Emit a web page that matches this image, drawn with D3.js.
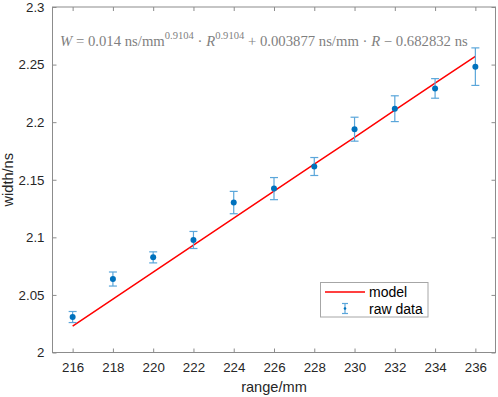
<!DOCTYPE html>
<html><head><meta charset="utf-8">
<script src="https://cdn.jsdelivr.net/npm/d3@7"></script>
<style>body{margin:0;background:#fff}svg{display:block}</style>
</head><body>
<svg id="c" width="498" height="397"></svg>
<script>
const rangeMM = [216,218,220,222,224,226,228,230,232,234,236];
const widthNs = [2.0308,2.0638,2.0826,2.0977,2.1302,2.1423,2.1615,2.1939,2.2117,2.2293,2.2482];
const errNs   = [0.0048,0.0061,0.0048,0.0074,0.0097,0.0096,0.0078,0.0104,0.0112,0.0085,0.0163];
const modelNs = [2.0229,2.0463,2.0698,2.0932,2.1166,2.1401,2.1635,2.1869,2.2104,2.2338,2.2572];
const xTicks = [216,218,220,222,224,226,228,230,232,234,236];
const yTicks = [2,2.05,2.1,2.15,2.2,2.25,2.3];
const yTickLabels = ["2","2.05","2.1","2.15","2.2","2.25","2.3"];

const svg = d3.select("#c");
const L=52.5, R=495.5, T=7, B=352.5;
const x = d3.scaleLinear().domain([215,237]).range([L,R]);
const y = d3.scaleLinear().domain([2,2.3]).range([B,T]);
const axisCol = "#262626", boxCol="#8c8c8c";
const font = "'Liberation Sans', Arial, sans-serif";

// box
svg.append("rect").attr("x",L).attr("y",T).attr("width",R-L).attr("height",B-T)
  .attr("fill","none").attr("stroke",boxCol).attr("stroke-width",1);

// axes
const xa = svg.append("g").attr("transform",`translate(0,${B})`)
  .call(d3.axisBottom(x).tickValues(xTicks).tickSizeInner(-4).tickSizeOuter(0).tickPadding(10));
const xt = svg.append("g").attr("transform",`translate(0,${T})`)
  .call(d3.axisTop(x).tickValues(xTicks).tickSizeInner(-4).tickSizeOuter(0).tickFormat(""));
const ya = svg.append("g").attr("transform",`translate(${L},0)`)
  .call(d3.axisLeft(y).tickValues(yTicks).tickFormat((d,i)=>yTickLabels[i]).tickSizeInner(-4).tickSizeOuter(0).tickPadding(8));
const yr = svg.append("g").attr("transform",`translate(${R},0)`)
  .call(d3.axisRight(y).tickValues(yTicks).tickSizeInner(-4).tickSizeOuter(0).tickFormat(""));
[xa,xt,ya,yr].forEach(g=>{
  g.select(".domain").remove();
  g.selectAll(".tick line").attr("stroke",boxCol);
  g.selectAll("text").attr("fill",axisCol).style("font-family",font).style("font-size","13.3px");
});

// axis titles
svg.append("text").attr("x",(L+R)/2).attr("y",392).attr("text-anchor","middle")
  .style("font-family",font).style("font-size","14.6px").attr("fill",axisCol).text("range/mm");
svg.append("text").attr("transform",`translate(13,${(T+B)/2}) rotate(-90)`).attr("text-anchor","middle")
  .style("font-family",font).style("font-size","14.6px").attr("fill",axisCol).text("width/ns");

// model line
const line = d3.line().x((d,i)=>x(rangeMM[i])).y(d=>y(d));
svg.append("path").datum(modelNs).attr("d",line).attr("fill","none").attr("stroke","#ff0000").attr("stroke-width",1.5);

// error bars
const errCol = "#5aa6da";
const eg = svg.append("g").attr("stroke",errCol).attr("stroke-width",1.2);
rangeMM.forEach((r,i)=>{
  const cx=x(r), y1=y(widthNs[i]+errNs[i]), y2=y(widthNs[i]-errNs[i]);
  eg.append("line").attr("x1",cx).attr("x2",cx).attr("y1",y1).attr("y2",y2);
  eg.append("line").attr("x1",cx-4).attr("x2",cx+4).attr("y1",y1).attr("y2",y1);
  eg.append("line").attr("x1",cx-4).attr("x2",cx+4).attr("y1",y2).attr("y2",y2);
});
svg.append("g").selectAll("circle").data(widthNs).join("circle")
  .attr("cx",(d,i)=>x(rangeMM[i])).attr("cy",d=>y(d)).attr("r",3).attr("fill","#0072bd");

// equation
const eq = svg.append("text").attr("x",60).attr("y",46).attr("fill","#7f7f7f")
  .style("font-family","'Liberation Serif', 'Times New Roman', serif").style("font-size","16px");
const parts = [
  ["W","i"],[" = 0.014 ns/mm",""],["0.9104","s"],[" · ",""],["R","i"],["0.9104","s"],
  [" + 0.003877 ns/mm · ",""],["R","i"],[" − 0.682832 ns",""]
];
parts.forEach(([t,k],i)=>{
  const ts = eq.append("tspan").text(t);
  if(k==="i") ts.style("font-style","italic");
  if(k==="s") ts.attr("dy",-7).style("font-size","11.5px").classed("sup",true);
  if(i>0 && parts[i-1][1]==="s") ts.attr("dy",7);
});
// fit width
const bb = eq.node().getComputedTextLength();
const target = 408, sc = target/bb;
eq.style("font-size", (16*sc).toFixed(2)+"px");
eq.selectAll("tspan.sup").style("font-size",(11.5*sc).toFixed(2)+"px");

// legend
const lg = svg.append("g");
lg.append("rect").attr("x",320.5).attr("y",282.5).attr("width",107.5).attr("height",34.5)
  .attr("fill","#fff").attr("stroke","#a6a6a6").attr("stroke-width",1);
lg.append("line").attr("x1",325).attr("x2",365).attr("y1",292).attr("y2",292).attr("stroke","#ff0000").attr("stroke-width",1.5);
lg.append("text").attr("x",369).attr("y",297).text("model")
  .style("font-family",font).style("font-size","14px").attr("fill","#000");
const le = lg.append("g").attr("stroke",errCol).attr("stroke-width",1.2);
le.append("line").attr("x1",345).attr("x2",345).attr("y1",303.5).attr("y2",313.5);
le.append("line").attr("x1",342).attr("x2",348).attr("y1",303.5).attr("y2",303.5);
le.append("line").attr("x1",342).attr("x2",348).attr("y1",313.5).attr("y2",313.5);
lg.append("circle").attr("cx",345).attr("cy",308.5).attr("r",1.3).attr("fill","#0072bd");
lg.append("text").attr("x",369).attr("y",313.5).text("raw data")
  .style("font-family",font).style("font-size","14px").attr("fill","#000");
</script>
</body></html>
